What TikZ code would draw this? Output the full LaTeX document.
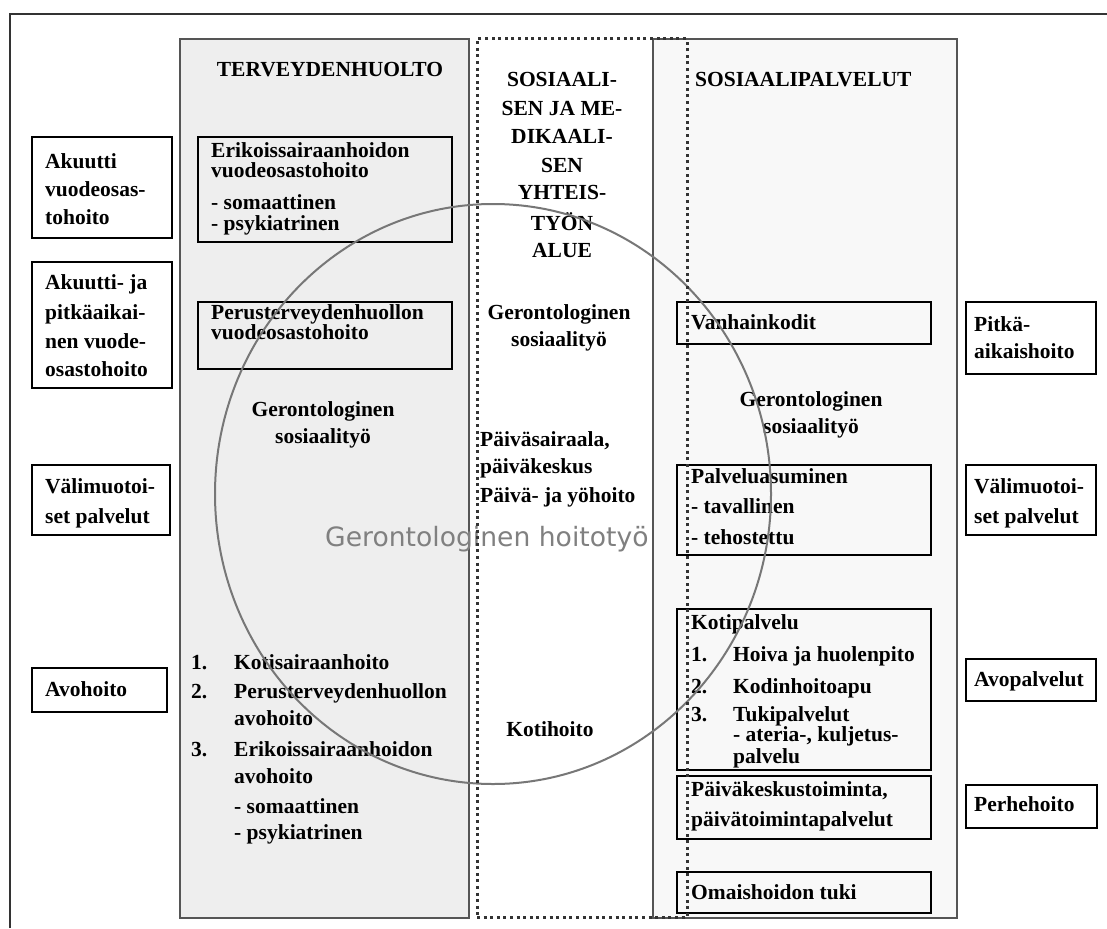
\documentclass[tikz,border=0pt]{standalone}
\usepackage{fontspec}
\setmainfont{Liberation Serif}
\newfontfamily\dejavu{DejaVu Sans}
\usetikzlibrary{shapes.geometric}
\definecolor{panelgray}{HTML}{EEEEEE}
\definecolor{panellight}{HTML}{F8F8F8}
\definecolor{framegray}{HTML}{333333}
\definecolor{panelline}{HTML}{555555}
\definecolor{ringgray}{HTML}{777777}
\definecolor{bigtext}{HTML}{808080}
\tikzset{
  bx/.style={draw=black, line width=1.5pt, rectangle, inner sep=0pt, outer sep=0pt},
  panelL/.style={draw=panelline, fill=panelgray, line width=1.5pt, rectangle, inner sep=0pt, outer sep=0pt},
  panelR/.style={draw=panelline, fill=panellight, line width=1.5pt, rectangle, inner sep=0pt, outer sep=0pt},
  dotbox/.style={draw=black!80, line width=3pt, dash pattern=on 3pt off 3.6pt, rectangle, inner sep=0pt, outer sep=0pt},
  ring/.style={draw=ringgray, line width=2pt, ellipse, inner sep=0pt, outer sep=0pt},
  tl/.style={anchor=base west, inner sep=0pt, font=\fontsize{21.5}{26}\selectfont\bfseries},
  tc/.style={anchor=base, inner sep=0pt, font=\fontsize{21.5}{26}\selectfont\bfseries},
  big/.style={anchor=base west, inner sep=0pt, text=bigtext, font=\dejavu\fontsize{26.6}{30}\selectfont},
  frame/.style={draw=framegray, line width=1.6pt}
}
\newcommand\BX[6][bx]{\node[#1, minimum width={(#5-#3)*1pt}, minimum height={(#6-#4)*1pt}] (#2) at ({(#3+#5)/2},{(#4+#6)/2}) {};}
\newcommand\TL[4]{\node[tl] (#1) at (#2,#3+6) {#4};}
\newcommand\TC[4]{\node[tc] (#1) at (#2,#3+6) {#4};}
\begin{document}
\begin{tikzpicture}[x=1pt,y=-1pt]
\useasboundingbox (0,0) rectangle (1107,928);
\fill[white] (0,0) rectangle (1107,928);
% outer frame (partly visible)
\coordinate (fBL) at (10,928);
\coordinate (fTL) at (10,14);
\coordinate (fTR) at (1107,14);
\draw[frame] (fBL) -- (fTL) -- (fTR);
% panels
\BX[panelL]{pL}{180}{39}{469}{918}
\BX[panelR]{pR}{653}{39}{957}{918}
% left outer boxes
\BX{bA}{32}{137}{172}{238}
\BX{bB}{32}{262}{172}{388}
\BX{bC}{32}{465}{170}{535}
\BX{bD}{32}{668}{167}{712}
% left panel boxes
\BX{bE}{198}{137}{452}{242}
\BX{bP}{198}{302}{452}{369}
% right panel boxes
\BX{bV}{677}{302}{931}{344}
\BX{bQ}{677}{465}{931}{555}
\BX{bK}{677}{609}{931}{770}
\BX{bPK}{677}{776}{931}{839}
\BX{bO}{677}{872}{931}{913}
% right outer boxes
\BX{bW}{966}{302}{1096}{374}
\BX{bX}{966}{465}{1096}{535}
\BX{bY}{966}{659}{1096}{701}
\BX{bZ}{966}{785}{1097}{828}
% left outer texts
\TL{a1}{45}{162}{Akuutti}
\TL{a2}{45}{190}{vuodeosas-}
\TL{a3}{45}{218}{tohoito}
\TL{b1}{45}{283}{Akuutti- ja}
\TL{b2}{45}{313}{pitkäaikai-}
\TL{b3}{45}{342}{nen vuode-}
\TL{b4}{45}{370}{osastohoito}
\TL{c1}{45}{487}{Välimuotoi-}
\TL{c2}{45}{517}{set palvelut}
\TL{d1}{45}{690}{Avohoito}
% left panel texts
\TC{th}{330}{71}{TERVEYDENHUOLTO}
\TL{e1}{211}{152}{Erikoissairaanhoidon}
\TL{e2}{211}{172}{vuodeosastohoito}
\TL{e3}{211}{203}{- somaattinen}
\TL{e4}{211}{224}{- psykiatrinen}
\TL{f1}{211}{313}{Perusterveydenhuollon}
\TL{f2}{211}{333}{vuodeosastohoito}
\TC{g1}{323}{410}{Gerontologinen}
\TC{g2}{323}{437}{sosiaalityö}
\TL{n1}{191}{663}{1.}
\TL{l1}{234}{663}{Kotisairaanhoito}
\TL{n2}{191}{692}{2.}
\TL{l2}{234}{692}{Perusterveydenhuollon}
\TL{l3}{234}{719}{avohoito}
\TL{n3}{191}{750}{3.}
\TL{l4}{234}{750}{Erikoissairaanhoidon}
\TL{l5}{234}{777}{avohoito}
\TL{l6}{234}{807}{- somaattinen}
\TL{l7}{234}{833}{- psykiatrinen}
% middle texts
\TC{s1}{562}{81}{SOSIAALI-}
\TC{s2}{562}{110}{SEN JA ME-}
\TC{s3}{562}{138}{DIKAALI-}
\TC{s4}{562}{167}{SEN}
\TC{s5}{562}{194}{YHTEIS-}
\TC{s6}{562}{224}{TYÖN}
\TC{s7}{562}{251}{ALUE}
\TC{m1}{559}{313}{Gerontologinen}
\TC{m2}{559}{340}{sosiaalityö}
\TL{p1}{480}{440}{Päiväsairaala,}
\TL{p2}{480}{467}{päiväkeskus}
\TL{p3}{480}{496}{Päivä- ja yöhoito}
\TC{kh}{550}{730}{Kotihoito}
% right panel texts
\TL{sp}{695}{81}{SOSIAALIPALVELUT}
\TL{v1}{691}{323}{Vanhainkodit}
\TC{r1}{811}{400}{Gerontologinen}
\TC{r2}{811}{427}{sosiaalityö}
\TL{q1}{691}{477}{Palveluasuminen}
\TL{q2}{691}{507}{- tavallinen}
\TL{q3}{691}{538}{- tehostettu}
\TL{k0}{691}{623}{Kotipalvelu}
\TL{k1n}{691}{655}{1.}
\TL{k1}{733}{655}{Hoiva ja huolenpito}
\TL{k2n}{691}{687}{2.}
\TL{k2}{733}{687}{Kodinhoitoapu}
\TL{k3n}{691}{715}{3.}
\TL{k3}{733}{715}{Tukipalvelut}
\TL{k4}{733}{735}{- ateria-, kuljetus-}
\TL{k5}{733}{757}{palvelu}
\TL{pk1}{691}{790}{Päiväkeskustoiminta,}
\TL{pk2}{691}{820}{päivätoimintapalvelut}
\TL{o1}{691}{893}{Omaishoidon tuki}
% right outer texts
\TL{w1}{974}{325}{Pitkä-}
\TL{w2}{974}{352}{aikaishoito}
\TL{x1}{974}{487}{Välimuotoi-}
\TL{x2}{974}{517}{set palvelut}
\TL{y1}{974}{680}{Avopalvelut}
\TL{z1}{974}{805}{Perhehoito}
% big label and ring
\node[big] (gh) at (325,546) {Gerontologinen hoitotyö};
\node[ring, minimum width=556pt, minimum height=580pt] (ringnode) at (493,494) {};
% dotted cooperation area
\BX[dotbox]{mid}{477}{39}{687}{917}
\end{tikzpicture}
\end{document}
